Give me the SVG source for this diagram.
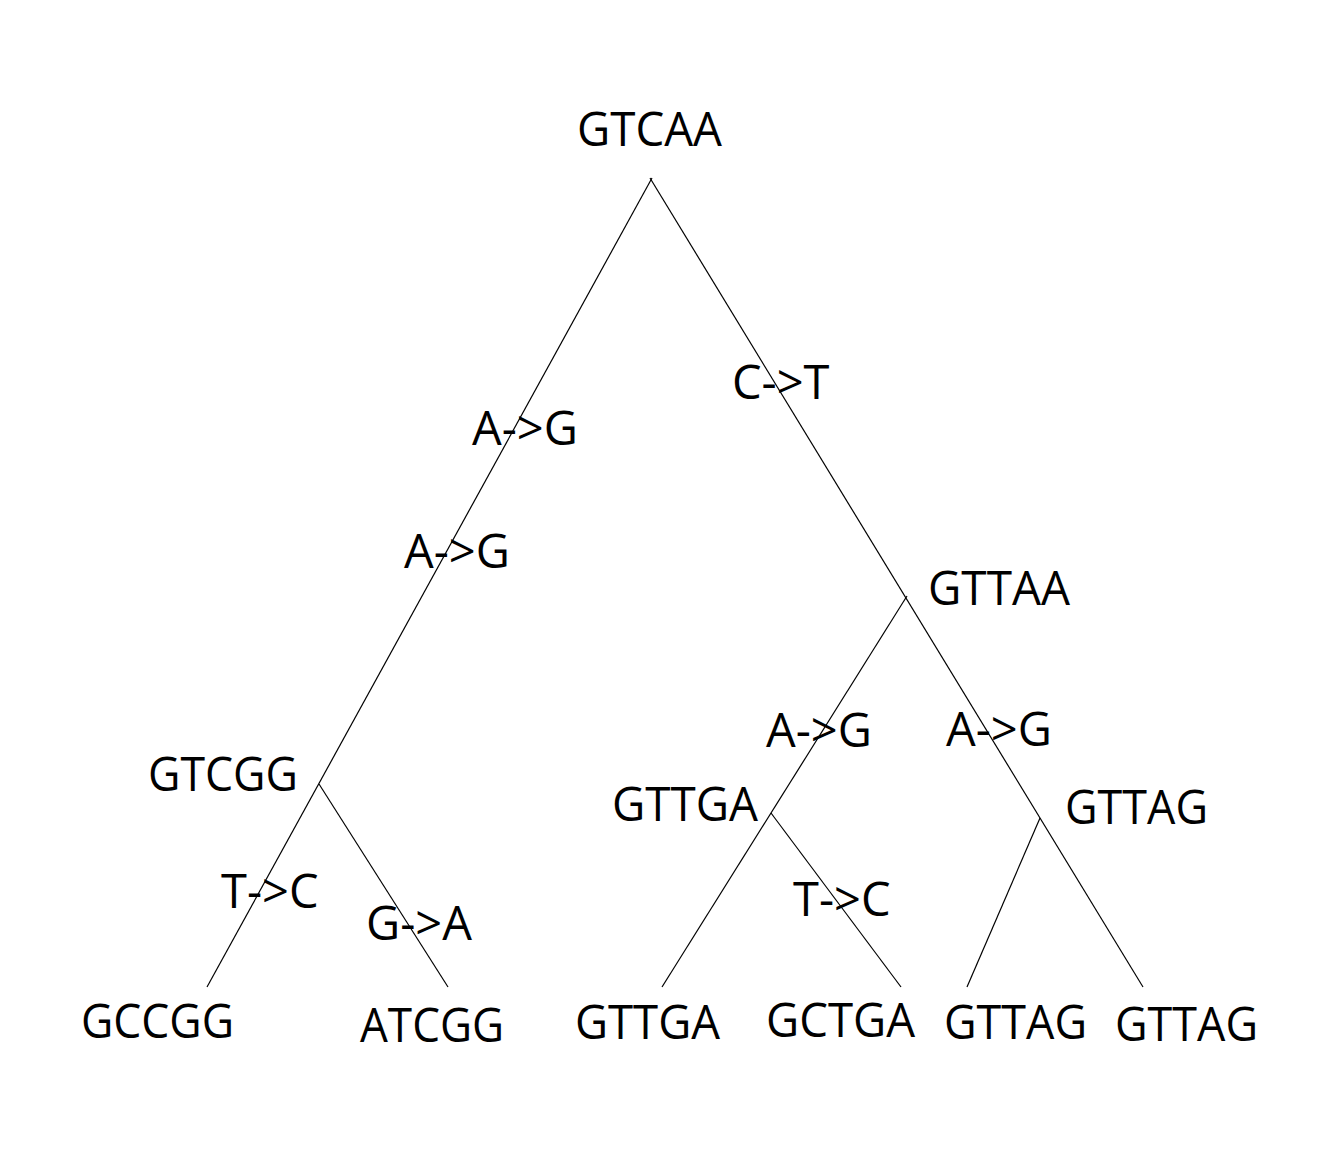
<svg xmlns="http://www.w3.org/2000/svg" width="1322" height="1167" viewBox="0 0 1322 1167">
<style>
  .lbl { font-family: "Open Sans", "Liberation Sans", sans-serif; font-size: 47px; fill: #000; }
  .edge { stroke: #000; stroke-width: 1.2; fill: none; }
</style>
<rect width="1322" height="1167" fill="#fff"/>
<g id="connectors">
  <line class="edge" x1="652" y1="178" x2="207" y2="987"/>
  <line class="edge" x1="650" y1="178" x2="1143" y2="987"/>
  <line class="edge" x1="319" y1="784" x2="448" y2="987"/>
  <line class="edge" x1="907" y1="596" x2="662" y2="987"/>
  <line class="edge" x1="771" y1="813" x2="901" y2="987"/>
  <line class="edge" x1="1040" y1="818" x2="967" y2="987"/>
</g>
<g id="node-GTCAA"><text class="lbl" x="577" y="146" textLength="145" lengthAdjust="spacingAndGlyphs">GTCAA</text></g>
<g id="node-GTCGG"><text class="lbl" x="148" y="791" textLength="150" lengthAdjust="spacingAndGlyphs">GTCGG</text></g>
<g id="node-GTTAA"><text class="lbl" x="928" y="605" textLength="142" lengthAdjust="spacingAndGlyphs">GTTAA</text></g>
<g id="node-GTTGA-mid"><text class="lbl" x="612" y="821" textLength="146" lengthAdjust="spacingAndGlyphs">GTTGA</text></g>
<g id="node-GTTAG-mid"><text class="lbl" x="1065" y="824" textLength="143" lengthAdjust="spacingAndGlyphs">GTTAG</text></g>
<g id="node-GCCGG"><text class="lbl" x="81" y="1038" textLength="153" lengthAdjust="spacingAndGlyphs">GCCGG</text></g>
<g id="node-ATCGG"><text class="lbl" x="360" y="1042" textLength="144" lengthAdjust="spacingAndGlyphs">ATCGG</text></g>
<g id="node-GTTGA-leaf"><text class="lbl" x="575" y="1039" textLength="145" lengthAdjust="spacingAndGlyphs">GTTGA</text></g>
<g id="node-GCTGA"><text class="lbl" x="766" y="1037" textLength="149" lengthAdjust="spacingAndGlyphs">GCTGA</text></g>
<g id="node-GTTAG-leaf1"><text class="lbl" x="944" y="1039" textLength="143" lengthAdjust="spacingAndGlyphs">GTTAG</text></g>
<g id="node-GTTAG-leaf2"><text class="lbl" x="1115" y="1041" textLength="143" lengthAdjust="spacingAndGlyphs">GTTAG</text></g>
<g id="edge-labels">
  <text class="lbl" x="472" y="445">A-&gt;G</text>
  <text class="lbl" x="732" y="399">C-&gt;T</text>
  <text class="lbl" x="404" y="568">A-&gt;G</text>
  <text class="lbl" x="766" y="747">A-&gt;G</text>
  <text class="lbl" x="946" y="746">A-&gt;G</text>
  <text class="lbl" x="221" y="908">T-&gt;C</text>
  <text class="lbl" x="366" y="940">G-&gt;A</text>
  <text class="lbl" x="793" y="916">T-&gt;C</text>
</g>
</svg>
